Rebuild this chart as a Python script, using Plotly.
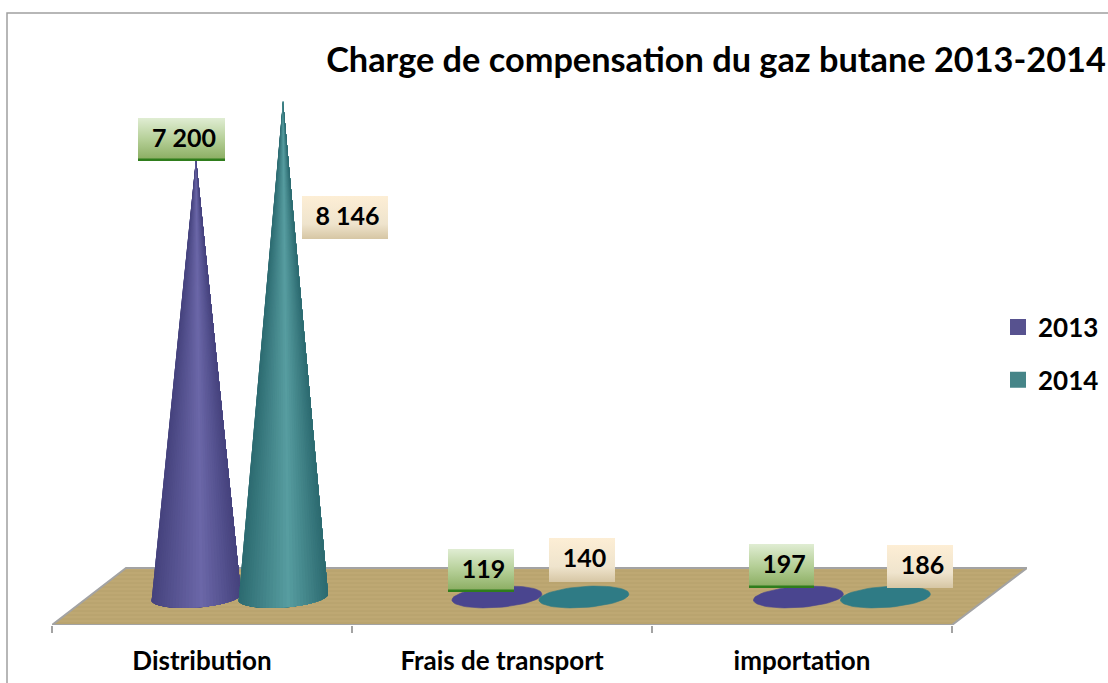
import math
import plotly.graph_objects as go

# ---- data ----
categories = ["Distribution", "Frais de transport", "importation"]
values_2013 = [7200, 119, 197]
values_2014 = [8146, 140, 186]

# ---- layout constants (pixels in the 1108x683 page) ----
W, H = 1108, 683
L, R, T, B = 52, 81, 13, 58
PX_PER_CAT = 300.0
PX_PER_VAL = 0.0609
ZERO_PX = 597.0
X_RANGE = [-0.5, -0.5 + (W - L - R) / PX_PER_CAT]
Y_RANGE = [(ZERO_PX - (H - B)) / PX_PER_VAL, (ZERO_PX - T) / PX_PER_VAL]

def X(px):
    return (px - L) / PX_PER_CAT - 0.5

def Y(py):
    return (ZERO_PX - py) / PX_PER_VAL

FONT = "Lato, Carlito, Calibri, sans-serif"
GRAY = "#a3a3a3"
BAR_OFFSET = 0.145
GROUP_SHIFT = [0.125, 0.128, 0.133]
A = 45 / PX_PER_CAT       # base half width
BB = 10.5 / PX_PER_VAL    # base half height
TILT = 3.0 / PX_PER_VAL   # base tilt
FLAT_LIMIT = 2 * BB       # cones this short read as flat discs
N_ARC = 40

PURPLE = ((0x45, 0x42, 0x7d), (0x6b, 0x67, 0xa8), "#4a458f")
TEAL = ((0x2c, 0x6a, 0x70), (0x57, 0x9d, 0xa0), "#2f7b85")

fig = go.Figure()

def poly(xs, ys, **kw):
    fig.add_trace(go.Scatter(x=xs, y=ys, mode="lines", fill="toself", hoverinfo="skip",
                             showlegend=False, **kw))

# floor
fx = [X(52), X(952), X(1027), X(126), X(52)]
fy = [Y(625), Y(625), Y(568), Y(568), Y(625)]
poly(fx, fy, line=dict(color=GRAY, width=2), fillcolor="#bfa872",
     fillpattern=dict(shape="-", bgcolor="#bea873", fgcolor="#b39d68", size=4, solidity=0.2, fillmode="replace"))

def shade(col, u):
    dark, light = col[0], col[1]
    f = u / 0.56 if u < 0.56 else (1 - u) / 0.44
    f = max(0.0, min(1.0, f))
    return "rgb(%d,%d,%d)" % tuple(round(d + (l - d) * f) for d, l in zip(dark, light))

def cone(cx, value, col):
    ex, ey = [], []
    for k in range(61):
        t = 2 * math.pi * k / 60
        ex.append(cx + A * math.cos(t))
        ey.append(BB * math.sin(t) + TILT * math.cos(t))
    if value <= FLAT_LIMIT:
        poly(ex, ey, line=dict(color=col[2], width=0.6), fillcolor=col[2])
        return
    poly(ex, ey, line=dict(width=0), fillcolor=shade(col, 0.3))
    # painter's fan: each wedge reaches to the far edge, the next one paints over it
    for k in range(N_ARC):
        xs, ys = [cx], [value]
        for j in range(k, N_ARC + 1):
            t = math.pi + math.pi * j / N_ARC
            xs.append(cx + A * math.cos(t))
            ys.append(BB * math.sin(t) + TILT * math.cos(t))
        xs.append(cx)
        ys.append(value)
        tm = math.pi + math.pi * (k + 0.5) / N_ARC
        u = (math.cos(tm) + 1) / 2
        poly(xs, ys, line=dict(width=0), fillcolor=shade(col, u))

for i in range(len(categories)):
    cone(i + GROUP_SHIFT[i] - BAR_OFFSET, values_2013[i], PURPLE)
    cone(i + GROUP_SHIFT[i] + BAR_OFFSET, values_2014[i], TEAL)

# data labels: (left, right, top, bottom) of each box in page pixels
boxes_2013 = [(138, 225, 118, 161), (448, 514, 549, 592), (749, 814, 544, 588)]
boxes_2014 = [(302, 388, 196, 239), (549, 615, 538, 582), (887, 953, 545, 588)]

def fmt(v):
    return f"{v:,}".replace(",", " ")

def label(box, value, scale, strip):
    l, r, t, b = box
    poly([X(l), X(r), X(r), X(l), X(l)], [Y(b), Y(b), Y(t), Y(t), Y(b)],
         line=dict(width=0), fillgradient=dict(type="vertical", colorscale=scale))
    if strip:
        poly([X(l), X(r), X(r), X(l), X(l)], [Y(b), Y(b), Y(b - 2.5), Y(b - 2.5), Y(b)],
             line=dict(width=0), fillcolor=strip)
    fig.add_trace(go.Scatter(x=[X((l + r) / 2 + 2.5)], y=[Y((t + b) / 2 + 1)], mode="text",
                             text=[fmt(value)], hoverinfo="skip", showlegend=False,
                             textposition="middle center",
                             textfont=dict(family=FONT, size=25, color="#000000", weight=700)))

GREEN = [[0, "#88ab5e"], [0.5, "#b5cf97"], [1, "#e0edd3"]]
CREAM = [[0, "#d6c6a4"], [0.35, "#efe4cd"], [1, "#fdeed5"]]
for i in range(len(categories)):
    label(boxes_2013[i], values_2013[i], GREEN, "#2f7d1c")
    label(boxes_2014[i], values_2014[i], CREAM, None)

# legend entries
for name, c in (("2013", "#57528f"), ("2014", "#468588")):
    fig.add_trace(go.Scatter(x=[None], y=[None], mode="markers", name=name, legendgroup=name,
                             marker=dict(symbol="square", size=17, color=c), hoverinfo="skip"))

# chart-area border, running off the page on the right and bottom
fig.add_shape(type="rect", xref="paper", yref="paper",
              x0=(7 - L) / (W - L - R), x1=(W + 20 - L) / (W - L - R),
              y0=(H - B - (H + 20)) / (H - T - B), y1=1.0,
              line=dict(color="#a0a0a0", width=1.5), layer="below")

fig.update_layout(
    width=W, height=H, autosize=False,
    paper_bgcolor="white", plot_bgcolor="rgba(0,0,0,0)",
    margin=dict(l=L, r=R, t=T, b=B, autoexpand=False),
    font=dict(family=FONT, color="#000000"),
    title=dict(text="Charge de compensation du gaz butane 2013-2014",
               x=716 / W, xanchor="center", xref="container",
               y=1 - 60 / H, yanchor="middle", yref="container",
               font=dict(family=FONT, size=34.3, color="#000000", weight=700)),
    xaxis=dict(range=X_RANGE, showgrid=False, zeroline=False, showline=False,
               tickmode="array", tickvals=list(range(len(categories))), ticktext=categories,
               ticks="", ticklabelstandoff=18,
               tickfont=dict(family=FONT, size=26, color="#000000", weight=700),
               minor=dict(tickmode="array", tickvals=[-0.5, 0.5, 1.5, 2.5], ticks="outside",
                          ticklen=7, tickwidth=1.5, tickcolor=GRAY, showgrid=False)),
    yaxis=dict(range=Y_RANGE, visible=False, showgrid=False, zeroline=False),
    showlegend=True,
    legend=dict(x=(998 - L) / (W - L - R), xanchor="left", y=1 - (353.5 - T) / (H - T - B), yanchor="middle",
                font=dict(family=FONT, size=26, color="#000000", weight=700),
                tracegroupgap=16, bgcolor="rgba(0,0,0,0)", itemclick=False, itemdoubleclick=False),
    hovermode=False,
)

fig.write_html("out.html", config={"displayModeBar": False},
               post_script="document.body.style.margin='0';")
